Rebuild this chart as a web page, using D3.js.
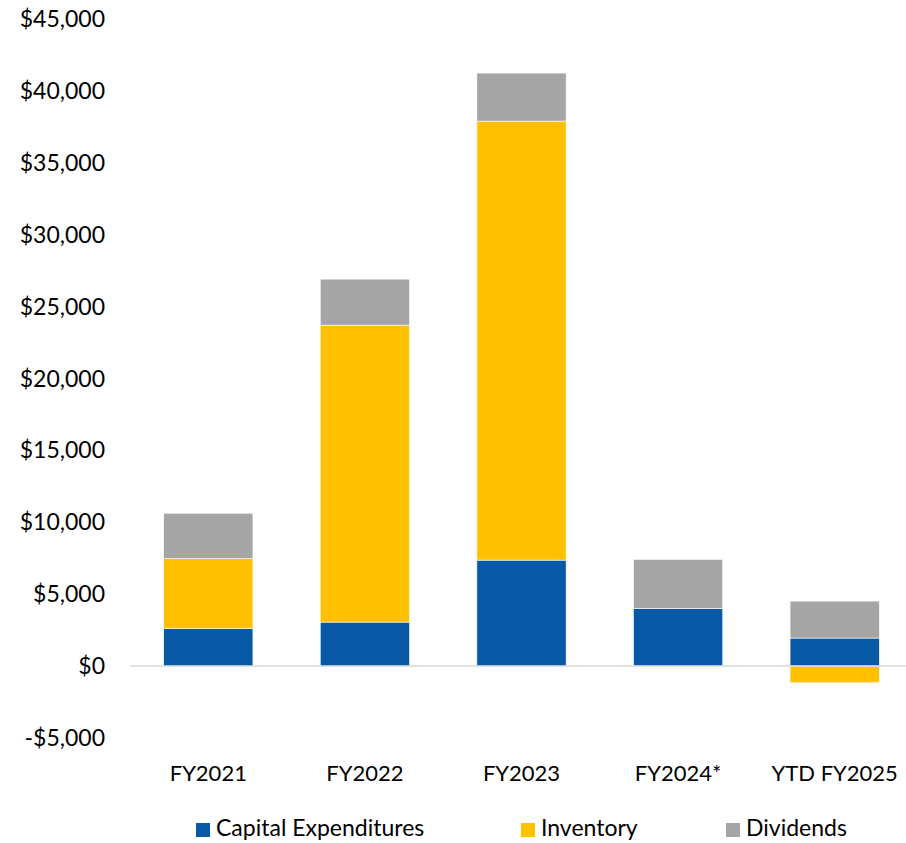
<!DOCTYPE html>
<html>
<head>
<meta charset="utf-8">
<script src="https://cdn.jsdelivr.net/npm/d3@7"></script>
<style>
  body { margin: 0; background: #fff; }
  text { font-family: Lato, "Open Sans", "Liberation Sans", sans-serif; fill: #000; }
</style>
</head>
<body>
<div id="chart"></div>
<script>
const categories = ["FY2021", "FY2022", "FY2023", "FY2024*", "YTD FY2025"];
const seriesNames = ["Capital Expenditures", "Inventory", "Dividends"];
const capex = [2600, 3060, 7370, 4000, 1950];
const inventory = [4870, 20650, 30530, -50, -1160];
const dividends = [3160, 3200, 3340, 3420, 2570];
const yTicks = [-5000, 0, 5000, 10000, 15000, 20000, 25000, 30000, 35000, 40000, 45000];
const colors = ["#0758A5", "#FFC000", "#A5A5A5"];

const W = 906, H = 843;
const svg = d3.select("#chart").append("svg").attr("width", W).attr("height", H);

const rows = categories.map((c, i) => ({
  cat: c,
  "Capital Expenditures": capex[i],
  "Inventory": inventory[i],
  "Dividends": dividends[i]
}));

const stacked = d3.stack().keys(seriesNames).offset(d3.stackOffsetDiverging)(rows);

const x = d3.scaleBand().domain(categories).range([130, 913]).paddingInner(0.43).paddingOuter(0.215);
const y = d3.scaleLinear().domain([-5000, 45000]).range([738, 19]);

// y labels
svg.append("g").selectAll("text").data(yTicks).enter()
  .append("text")
  .attr("x", 105).attr("y", d => y(d)).attr("dy", "0.35em")
  .attr("text-anchor", "end").style("font-size", "23px")
  .text(d => (d < 0 ? "-$" : "$") + d3.format(",")(Math.abs(d)));

// bars
svg.append("g").selectAll("g").data(stacked).enter()
  .append("g").attr("fill", (d, i) => colors[i])
  .selectAll("rect").data(d => d).enter()
  .append("rect")
  .attr("x", d => x(d.data.cat))
  .attr("width", x.bandwidth())
  .attr("y", d => y(Math.max(d[0], d[1])))
  .attr("height", d => Math.abs(y(d[0]) - y(d[1])))
  .attr("stroke", "#fff").attr("stroke-width", 0.6);

// zero line
svg.append("line")
  .attr("x1", 130).attr("x2", W)
  .attr("y1", y(0)).attr("y2", y(0))
  .attr("stroke", "#d9d9d9").attr("stroke-width", 1.5);

// category labels
svg.append("g").selectAll("text").data(categories).enter()
  .append("text")
  .attr("x", d => x(d) + x.bandwidth() / 2).attr("y", 773).attr("dy", "0.35em")
  .attr("text-anchor", "middle").style("font-size", "22px")
  .text(d => d);

// legend
const legendX = [196, 521, 726];
const leg = svg.append("g").selectAll("g").data(seriesNames).enter()
  .append("g").attr("transform", (d, i) => `translate(${legendX[i]},828)`);
leg.append("rect").attr("x", 0).attr("y", -5).attr("width", 14).attr("height", 14)
  .attr("fill", (d, i) => colors[i]);
leg.append("text").attr("x", 20).attr("y", 0).attr("dy", "0.35em")
  .style("font-size", "23px").text(d => d);
</script>
</body>
</html>
